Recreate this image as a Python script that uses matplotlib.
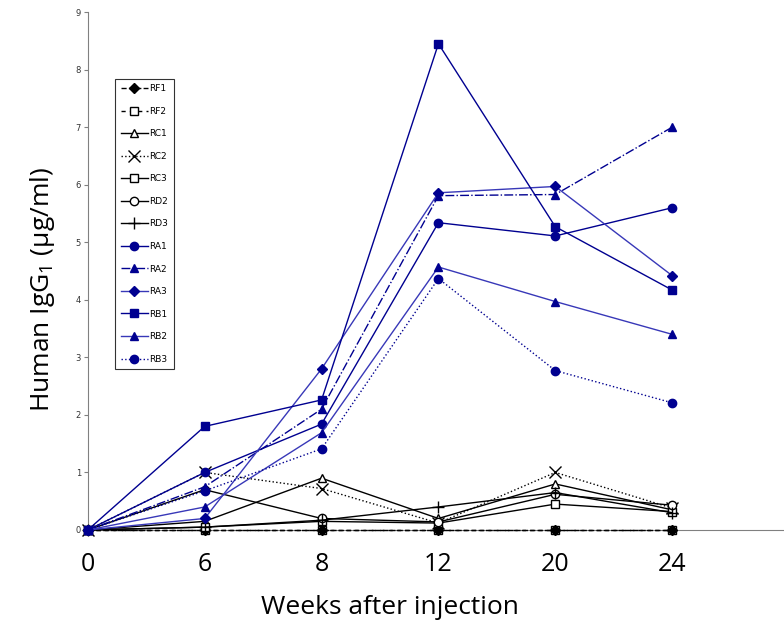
import matplotlib
matplotlib.use("Agg")
from matplotlib import pyplot as plt

weeks = ["0", "6", "8", "12", "20", "24"]

rf1 = [0, 0, 0, 0, 0, 0]
rf2 = [0, 0, 0, 0, 0, 0]
rc1 = [0, 0.15, 0.9, 0.2, 0.8, 0.35]
rc2 = [0, 1.0, 0.72, 0.12, 1.0, 0.38]
rc3 = [0, 0.05, 0.15, 0.12, 0.45, 0.32]
rd2 = [0, 0.7, 0.2, 0.14, 0.62, 0.43]
rd3 = [0, 0.05, 0.17, 0.4, 0.65, 0.3]
ra1 = [0, 1.0, 1.84, 5.34, 5.11, 5.6]
ra2 = [0, 0.75, 2.1, 5.81, 5.83, 7.0]
ra3 = [0, 0.2, 2.8, 5.86, 5.97, 4.42]
rb1 = [0, 1.8, 2.26, 8.45, 5.27, 4.17]
rb2 = [0, 0.4, 1.69, 4.57, 3.97, 3.4]
rb3 = [0, 0.68, 1.41, 4.37, 2.77, 2.21]

dark = "#000090"
light = "#3838B8"

series = [
    ("RF1", rf1, "k", "--", "D", "k"),
    ("RF2", rf2, "k", (0, (3, 3)), "s", "white"),
    ("RC1", rc1, "k", "-", "^", "white"),
    ("RC2", rc2, "k", ":", "x", "white"),
    ("RC3", rc3, "k", "-", "s", "white"),
    ("RD2", rd2, "k", "-", "o", "white"),
    ("RD3", rd3, "k", "-", "+", "white"),
    ("RA1", ra1, dark, "-", "o", dark),
    ("RA2", ra2, dark, "-.", "^", dark),
    ("RA3", ra3, light, "-", "D", dark),
    ("RB1", rb1, dark, "-", "s", dark),
    ("RB2", rb2, light, "-", "^", dark),
    ("RB3", rb3, dark, ":", "o", dark),
]

fig = plt.figure(figsize=(7.84, 6.37), dpi=100)
ax = fig.add_axes([0.112, 0.168, 0.887, 0.813])

x = range(len(weeks))
for i, (name, vals, col, ls, mk, face) in enumerate(series):
    ms = 5 if mk == "D" else 6
    if mk in ("x", "+"):
        ms = 8
    edge = "k" if col == "k" else dark
    z = 3 + i * 0.1
    if name == "RF1":
        z = 3.25  # filled diamond shows over the RF2 squares
    ax.plot(x, vals, color=col, linestyle=ls, linewidth=1, marker=mk,
            markersize=ms, markerfacecolor=face, markeredgecolor=edge,
            markeredgewidth=1, label=name, zorder=z, clip_on=False)

ax.set_xlim(0, 5.95)
ax.set_ylim(0, 9)
ax.set_xticks(list(x))
ax.set_xticklabels(weeks, fontsize=18, family="Open Sans")
ax.set_yticks(range(10))
ax.tick_params(axis="y", labelsize=6, length=3, color="#808080", labelcolor="#333333", pad=2)
ax.tick_params(axis="x", length=2, color="#b0b0b0", pad=14)
for s in ("top", "right"):
    ax.spines[s].set_visible(False)
ax.spines["left"].set_color("#808080")
ax.spines["bottom"].set_color("#808080")

leg = ax.legend(loc="upper left", bbox_to_anchor=(0.033, 0.88),
                frameon=True, fancybox=False, edgecolor="black", handlelength=3.0,
                labelspacing=1.5, borderpad=0.6, handletextpad=0.2,
                prop={"family": "Liberation Sans Narrow", "size": 6.5})
leg.get_frame().set_linewidth(0.8)

plt.rcParams["mathtext.fontset"] = "custom"
plt.rcParams["mathtext.rm"] = "Open Sans"
plt.rcParams["mathtext.it"] = "Open Sans"
fig.text(0.054, 0.545, r"Human IgG$_1$ (µg/ml)", rotation=90, fontsize=19,
         family="Open Sans", ha="center", va="center")
fig.text(0.497, 0.047, "Weeks after injection", fontsize=19, family="Open Sans",
         ha="center", va="center")

fig.savefig("out.png", dpi=100)
